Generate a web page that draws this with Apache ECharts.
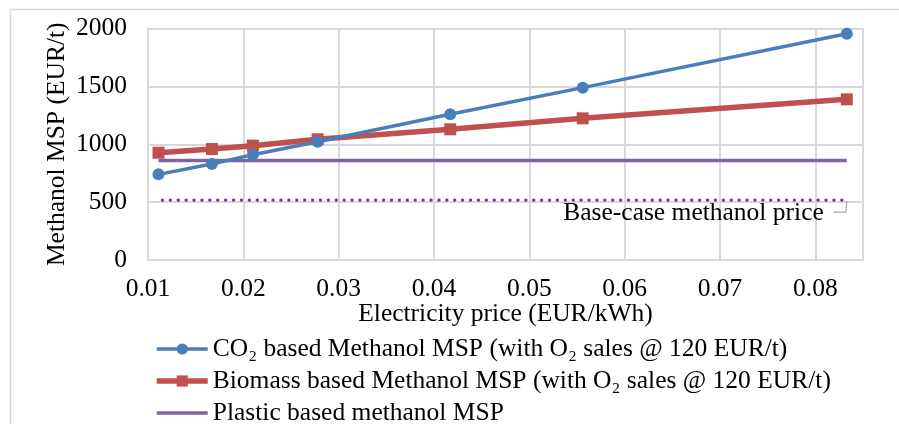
<!DOCTYPE html>
<html>
<head>
<meta charset="utf-8">
<script src="https://cdn.jsdelivr.net/npm/echarts@6/dist/echarts.min.js"></script>
<style>
html,body{margin:0;padding:0;background:#fff;}
#c{width:899px;height:424px;}
</style>
</head>
<body>
<div id="c"></div>
<script>
var xValues = [0.0111, 0.0167, 0.021, 0.0278, 0.0417, 0.0556, 0.0833];
var co2MSP = [740, 829, 910, 1022, 1259, 1489, 1955];
var biomassMSP = [927, 959, 988, 1043, 1129, 1224, 1388];
var plasticMSP = [860, 860, 860, 860, 860, 860, 860];
var baseCasePrice = [518, 518, 518, 518, 518, 518, 518];
var seriesNames = [
  'CO\u2082 based Methanol MSP (with O\u2082 sales @ 120 EUR/t)',
  'Biomass based Methanol MSP (with O\u2082 sales @ 120 EUR/t)',
  'Plastic based methanol MSP'
];
var baseCaseLabel = 'Base-case methanol price';
var xTitle = 'Electricity price (EUR/kWh)';
var yTitle = 'Methanol MSP (EUR/t)';

function pairs(ys) { return xValues.map(function (x, i) { return [x, ys[i]]; }); }

var FONT = 'Liberation Serif';
var FS = 25.5;
var chart = echarts.init(document.getElementById('c'));
var option = {
  animation: false,
  textStyle: { fontFamily: FONT, color: '#000' },
  grid: { left: 148, top: 28.5, right: 36, bottom: 164, show: true, borderColor: '#d9d9d9', borderWidth: 1.5 },
  xAxis: {
    type: 'value', min: 0.01, max: 0.085, interval: 0.01,
    name: xTitle, nameLocation: 'middle', nameGap: 41, nameMoveOverlap: false,
    nameTextStyle: { fontFamily: FONT, fontSize: FS, color: '#000' },
    axisLine: { show: true, lineStyle: { color: '#d9d9d9', width: 2 } },
    axisTick: { show: false },
    axisLabel: { fontFamily: FONT, fontSize: FS, color: '#000', margin: 16, showMaxLabel: false,
      formatter: function (v) { return v.toFixed(2); } },
    splitLine: { show: true, lineStyle: { color: '#d9d9d9', width: 2 } }
  },
  yAxis: {
    type: 'value', min: 0, max: 2000, interval: 500,
    name: yTitle, nameLocation: 'middle', nameGap: 78, nameMoveOverlap: false,
    nameTextStyle: { fontFamily: FONT, fontSize: FS, color: '#000' },
    axisLine: { show: true, lineStyle: { color: '#d9d9d9', width: 2 } },
    axisTick: { show: false },
    axisLabel: { fontFamily: FONT, fontSize: FS, color: '#000', margin: 21,
      formatter: function (v) { return String(v); } },
    splitLine: { show: true, lineStyle: { color: '#d9d9d9', width: 2 } }
  },
  legend: {
    orient: 'vertical', left: 149, top: 331, height: 200,
    itemWidth: 51, itemHeight: 14, itemGap: 6,
    textStyle: { fontFamily: FONT, fontSize: FS, color: '#000', lineHeight: 25 },
    data: [
      { name: seriesNames[0], lineStyle: { width: 3.5 } },
      { name: seriesNames[1], lineStyle: { width: 5.5 } },
      { name: seriesNames[2], lineStyle: { width: 3.5 }, itemStyle: { opacity: 0 } }
    ]
  },
  series: [
    {
      name: seriesNames[2], type: 'line', data: pairs(plasticMSP), symbol: 'none',
      lineStyle: { color: '#8064a2', width: 3.5 }, itemStyle: { color: '#8064a2' }, z: 2
    },
    {
      name: baseCaseLabel, type: 'line', data: pairs(baseCasePrice), symbol: 'none',
      lineStyle: { color: '#7030a0', width: 3.3, type: [0.1, 7.8], cap: 'round', dashOffset: 4 }, itemStyle: { color: '#7030a0' }, z: 2
    },
    {
      name: seriesNames[1], type: 'line', data: pairs(biomassMSP), symbol: 'rect', symbolSize: 12,
      lineStyle: { color: '#c0504d', width: 5.5 }, itemStyle: { color: '#c0504d' }, z: 3
    },
    {
      name: seriesNames[0], type: 'line', data: pairs(co2MSP), symbol: 'circle', symbolSize: 12,
      lineStyle: { color: '#4a7ebb', width: 3.5 }, itemStyle: { color: '#4a7ebb' }, z: 4
    }
  ]
};
chart.setOption(option);

var last = xValues.length - 1;
var p = chart.convertToPixel({ gridIndex: 0 }, [xValues[last], baseCasePrice[last]]);
chart.setOption({
  graphic: [
    { type: 'rect', shape: { x: 10.5, y: 9.5, width: 900, height: 500 }, style: { fill: 'none', stroke: '#d9d9d9', lineWidth: 1.5 }, silent: true, z: -1 },
    { type: 'text', x: p[0] - 23, y: p[1] + 13, style: { text: baseCaseLabel, font: FS + 'px "' + FONT + '"', fill: '#000', align: 'right', verticalAlign: 'middle' }, z: 10 },
    { type: 'polyline', shape: { points: [[p[0] - 13, p[1] + 12], [p[0] - 1, p[1] + 12], [p[0], p[1] + 1]] }, style: { stroke: '#a6a6a6', lineWidth: 1.2, fill: 'none' }, z: 10 }
  ]
});
</script>
</body>
</html>
